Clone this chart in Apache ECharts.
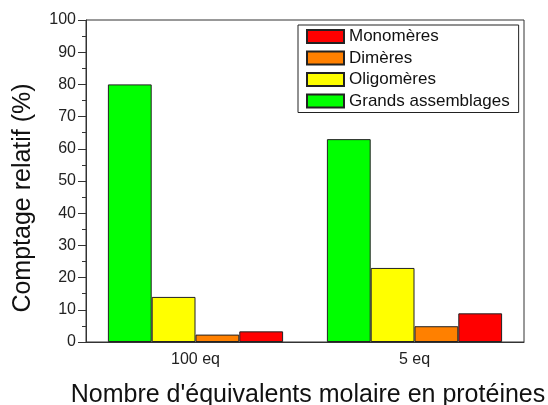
<!DOCTYPE html>
<html>
<head>
<meta charset="utf-8">
<script src="https://cdn.jsdelivr.net/npm/echarts@6/dist/echarts.min.js"></script>
<style>
  html, body { margin: 0; padding: 0; background: #fff; }
  #chart { width: 548px; height: 405px; }
</style>
</head>
<body>
<div id="chart"></div>
<script>
// Relative counts (%) per aggregate class, for each protein equivalent level
const categories = ['100 eq', '5 eq'];
const grandsAssemblages = [80, 63];
const oligomeres = [14, 23];
const dimeres = [2.3, 4.9];
const monomeres = [3.3, 8.9];
const yTicks = { min: 0, max: 100, step: 10 };

const FONT = 'Liberation Sans, Arial, Helvetica, sans-serif';
const chart = echarts.init(document.getElementById('chart'));

function barSeries(name, data, color) {
  return {
    name: name,
    type: 'bar',
    data: data,
    barGap: '0%',
    barCategoryGap: '20%',
    itemStyle: { color: color, borderColor: '#222', borderWidth: 1 }
  };
}

chart.setOption({
  animation: false,
  textStyle: { fontFamily: FONT },
  grid: {
    left: 86, right: 24, top: 20, bottom: 63,
    outerBoundsMode: 'none',
    containLabel: false,
    show: true, borderColor: '#333', borderWidth: 1, backgroundColor: 'transparent'
  },
  legend: {
    data: ['Monomères', 'Dimères', 'Oligomères', 'Grands assemblages'],
    orient: 'vertical',
    left: 298, top: 25,
    itemWidth: 37, itemHeight: 13, itemGap: 4.5,
    padding: [3, 9, 3, 8],
    borderColor: '#222', borderWidth: 1,
    icon: 'rect',
    textStyle: { fontFamily: FONT, fontSize: 17, color: '#111', lineHeight: 16 }
  },
  xAxis: {
    type: 'category',
    data: categories,
    name: "Nombre d'équivalents molaire en protéines",
    nameLocation: 'middle',
    nameGap: 41,
    nameTextStyle: { fontSize: 25, color: '#111', fontFamily: FONT, padding: [0, 0, 0, 6] },
    axisLine: { lineStyle: { color: '#333' } },
    axisTick: { alignWithLabel: true, length: 7, lineStyle: { color: '#333' } },
    axisLabel: { fontSize: 16, color: '#222', margin: 10, fontFamily: FONT },
    splitLine: { show: false }
  },
  yAxis: {
    type: 'value',
    min: yTicks.min, max: yTicks.max, interval: yTicks.step,
    name: 'Comptage relatif (%)',
    nameLocation: 'middle',
    nameGap: 50,
    nameTextStyle: { fontSize: 25, color: '#111', fontFamily: FONT, padding: [0, 34, 0, 0] },
    axisLine: { show: true, lineStyle: { color: '#333' } },
    axisTick: { show: true, length: 8, lineStyle: { color: '#333' } },
    minorTick: { show: true, splitNumber: 2, length: 4, lineStyle: { color: '#333' } },
    axisLabel: { fontSize: 16, color: '#222', margin: 10, fontFamily: FONT },
    splitLine: { show: false }
  },
  series: [
    barSeries('Grands assemblages', grandsAssemblages, '#00ff00'),
    barSeries('Oligomères', oligomeres, '#ffff00'),
    barSeries('Dimères', dimeres, '#ff8000'),
    barSeries('Monomères', monomeres, '#ff0000')
  ]
});
</script>
</body>
</html>
